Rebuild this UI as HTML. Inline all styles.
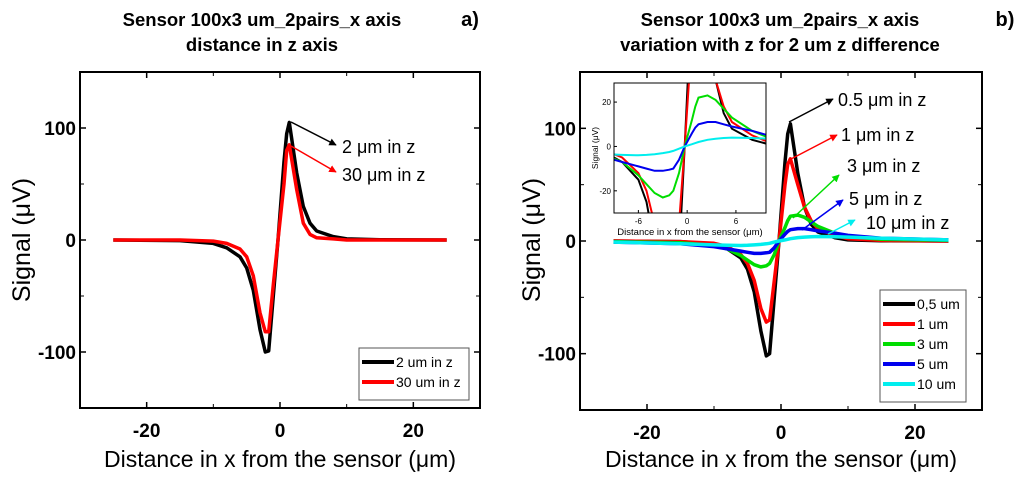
<!DOCTYPE html>
<html><head><meta charset="utf-8"><style>
body{margin:0;background:#fff;}
svg text{font-family:"Liberation Sans",sans-serif;}
</style></head><body>
<svg id="fig" width="1024" height="478" viewBox="0 0 1024 478" xmlns="http://www.w3.org/2000/svg">
<defs>
<marker id="ah" viewBox="0 0 10 10" refX="9" refY="5" markerWidth="5" markerHeight="5" orient="auto"><path d="M0,0L10,5L0,10z" fill="context-stroke"/></marker>
</defs>
</svg>
<script>
const xs=[-25,-15,-10,-8,-6,-5,-4,-3,-2.2,-1.7,-1,-0.3,0.6,1.0,1.4,2.5,3.5,4.5,5.5,8,10,15,25];
const leftBlack=[0,-0.5,-3,-7,-15,-25,-45,-80,-100,-99,-50,0,70,95,105,60,30,15,8,3,1,0.3,0];
const leftRed=[0,0,-1,-3,-8,-15,-32,-65,-82,-82,-40,0,50,80,85,45,15,5,2,1,0,0,0];
const s05=[0,-0.5,-3,-7,-15,-25,-45,-80,-102,-100,-50,0,70,95,104,60,30,15,8,3,1,0.3,0];
const s1=[0,-0.5,-2,-5,-12,-20,-35,-60,-72,-70,-35,0,50,68,73,50,30,18,11,5,2,0.5,0];
const s3=[-0.5,-1.5,-4,-7,-13,-17,-21,-23,-22,-20,-12,0,12,18,22,23,21,17,13,7,4,1.5,0.5];
const s5=[-1,-2.5,-5,-7,-9,-10,-11,-11,-10.5,-10,-6,0,6,8.5,10,11,11,10,9,7,5,2.5,1];
const s10=[-1,-2.5,-3.5,-3.8,-4,-3.8,-3.5,-3,-2.5,-2,-1,0,1,1.5,2,3,3.5,3.8,4,3.8,3.5,2.5,1];
const xTicks=[-20,0,20];
const yTicks=[-100,0,100];
const insetXTicks=[-6,0,6];
const insetYTicks=[-20,0,20];
const NS="http://www.w3.org/2000/svg";
const svg=document.getElementById('fig');
function el(t,a,p){const e=document.createElementNS(NS,t);for(const k in a)e.setAttribute(k,a[k]);(p||svg).appendChild(e);return e;}
function txt(x,y,s,a,p){const e=el('text',Object.assign({x:x,y:y},a),p);e.textContent=s;return e;}
function scale(d0,d1,r0,r1){return v=>r0+(v-d0)/(d1-d0)*(r1-r0);}

function panel(id,L,R,T,B,series,colors,names){
  const g=el('g',{});
  
  
  const sx=scale(-30,30,L,R), sy=scale(-150,150,B,T);
  const cp=el('clipPath',{id:'c'+id},g);el('rect',{x:L,y:T,width:R-L,height:B-T},cp);
  series.forEach((d,i)=>{
    const p=el('path',{d:d.map((v,j)=>(j?'L':'M')+sx(xs[j]).toFixed(1)+','+sy(v).toFixed(1)).join(''),fill:'none',stroke:colors[i],'stroke-width':3.5,'stroke-linejoin':'round','clip-path':'url(#c'+id+')'},g);
    
    
  });
  const fr=el('rect',{x:L,y:T,width:R-L,height:B-T,fill:'none',stroke:'#000','stroke-width':2},g);
  
  
  xTicks.forEach(v=>{const x=sx(v);el('line',{x1:x,x2:x,y1:B,y2:B-6,stroke:'#000','stroke-width':1.5},g);el('line',{x1:x,x2:x,y1:T,y2:T+6,stroke:'#000','stroke-width':1.5},g);
    const t=txt(x,B+29,String(v),{'text-anchor':'middle','font-size':19,'font-weight':'bold'},g);
    
    });
  [-50,50,-150,150].forEach(v=>{const y=sy(v);el('line',{x1:L,x2:L+4,y1:y,y2:y,stroke:'#000'},g);el('line',{x1:R,x2:R-4,y1:y,y2:y,stroke:'#000'},g);});
  [-10,10].forEach(v=>{const x=sx(v);el('line',{x1:x,x2:x,y1:B,y2:B-4,stroke:'#000'},g);el('line',{x1:x,x2:x,y1:T,y2:T+4,stroke:'#000'},g);});
  yTicks.forEach(v=>{const y=sy(v);el('line',{x1:L,x2:L+6,y1:y,y2:y,stroke:'#000','stroke-width':1.5},g);el('line',{x1:R,x2:R-6,y1:y,y2:y,stroke:'#000','stroke-width':1.5},g);
    const t=txt(L-4,y+7,String(v),{'text-anchor':'end','font-size':19,'font-weight':'bold'},g);
    
    });
  return {sx,sy};
}

const A=panel('left',80,480,72,408,[leftBlack,leftRed],['#000','#f00'],['2um','30um']);
const Bp=panel('right',580,982,72,410,[s05,s1,s3,s5,s10],['#000','#f00','#0d0','#00e','#0ee'],['0.5um','1um','3um','5um','10um']);

const ig=el('g',{});


el('rect',{x:614,y:83,width:152,height:130,fill:'#fff'},ig);
const isx=scale(-9,9.7,614,766), isy=scale(-30,28.6,213,83);
const icp=el('clipPath',{id:'ci'},ig);el('rect',{x:614,y:83,width:152,height:130},icp);
[[s05,'#000'],[s1,'#f00'],[s3,'#0d0'],[s5,'#00e'],[s10,'#0ee']].forEach(([d,c])=>{
  const p=el('path',{d:d.map((v,j)=>(j?'L':'M')+isx(xs[j]).toFixed(1)+','+isy(v).toFixed(1)).join(''),fill:'none',stroke:c,'stroke-width':2,'clip-path':'url(#ci)'},ig);
  
  
});
el('rect',{x:614,y:83,width:152,height:130,fill:'none',stroke:'#000','stroke-width':1},ig);
insetXTicks.forEach(v=>{const x=isx(v);el('line',{x1:x,x2:x,y1:213,y2:210,stroke:'#000'},ig);txt(x,224,String(v),{'text-anchor':'middle','font-size':8},ig);});
insetYTicks.forEach(v=>{const y=isy(v);el('line',{x1:614,x2:617,y1:y,y2:y,stroke:'#000'},ig);txt(611,y+3,String(v),{'text-anchor':'end','font-size':8},ig);});
txt(690,235,'Distance in x from the sensor (\u03bcm)',{'text-anchor':'middle','font-size':9.5},ig);
txt(0,0,'Signal (\u03bcV)',{'text-anchor':'middle','font-size':8.5,transform:'translate(598,148) rotate(-90)'},ig);

function T(x,y,s,a,name){const t=txt(x,y,s,a);}
T(262,26,'Sensor 100x3 um_2pairs_x axis',{'text-anchor':'middle','font-size':18.5,'font-weight':'bold'},'left-title');
T(262,51,'distance in z axis',{'text-anchor':'middle','font-size':18.5,'font-weight':'bold'},'left-subtitle');
T(470,26,'a)',{'text-anchor':'middle','font-size':20,'font-weight':'bold'},'panel-a-label');
T(780,26,'Sensor 100x3 um_2pairs_x axis',{'text-anchor':'middle','font-size':18.5,'font-weight':'bold'},'right-title');
T(780,51,'variation with z for 2 um z difference',{'text-anchor':'middle','font-size':18.5,'font-weight':'bold'},'right-subtitle');
T(1005,26,'b)',{'text-anchor':'middle','font-size':20,'font-weight':'bold'},'panel-b-label');
T(280,467,'Distance in x from the sensor (\u03bcm)',{'text-anchor':'middle','font-size':23},'left-x-axis-title');
T(781,467,'Distance in x from the sensor (\u03bcm)',{'text-anchor':'middle','font-size':23},'right-x-axis-title');
T(0,0,'Signal (\u03bcV)',{'text-anchor':'middle','font-size':25,transform:'translate(30,240) rotate(-90)'},'left-y-axis-title');
T(0,0,'Signal (\u03bcV)',{'text-anchor':'middle','font-size':25,transform:'translate(540,240) rotate(-90)'},'right-y-axis-title');

function arrow(x1,y1,x2,y2,c){el('line',{x1,y1,x2,y2,stroke:c,'stroke-width':1.5,'marker-end':'url(#ah)'});}
arrow(291,122,336,145,'#000');T(342,153,'2 \u03bcm in z',{'font-size':18},'annotation-2um');
arrow(291,146,336,172,'#f00');T(342,181,'30 \u03bcm in z',{'font-size':18},'annotation-30um');
arrow(789,122,833,99,'#000');T(838,106,'0.5 \u03bcm in z',{'font-size':18},'annotation-0.5um');
arrow(791,159,837,135,'#f00');T(841,141,'1 \u03bcm in z',{'font-size':18},'annotation-1um');
arrow(793,218,839,175,'#0d0');T(847,172,'3 \u03bcm in z',{'font-size':18},'annotation-3um');
arrow(802,230,843,200,'#00e');T(849,205,'5 \u03bcm in z',{'font-size':18},'annotation-5um');
arrow(828,234,855,220,'#0ee');T(866,229,'10 \u03bcm in z',{'font-size':18},'annotation-10um');

function legend(x,y,w,items,name){
  const g=el('g',{});
  
  
  el('rect',{x,y,width:w,height:items.length*20+12,fill:'#fff',stroke:'#555'},g);
  items.forEach(([c,s],i)=>{const yy=y+14+i*20;el('line',{x1:x+3,x2:x+35,y1:yy,y2:yy,stroke:c,'stroke-width':4},g);
    const e=txt(x+37,yy+5,s,{'font-size':14},g);
    
    });
}
legend(359,348,110,[['#000','2 um in z'],['#f00','30 um in z']],'left-legend');
legend(880,290,86,[['#000','0,5 um'],['#f00','1 um'],['#0d0','3 um'],['#00e','5 um'],['#0ee','10 um']],'right-legend');
</script>
</body></html>
